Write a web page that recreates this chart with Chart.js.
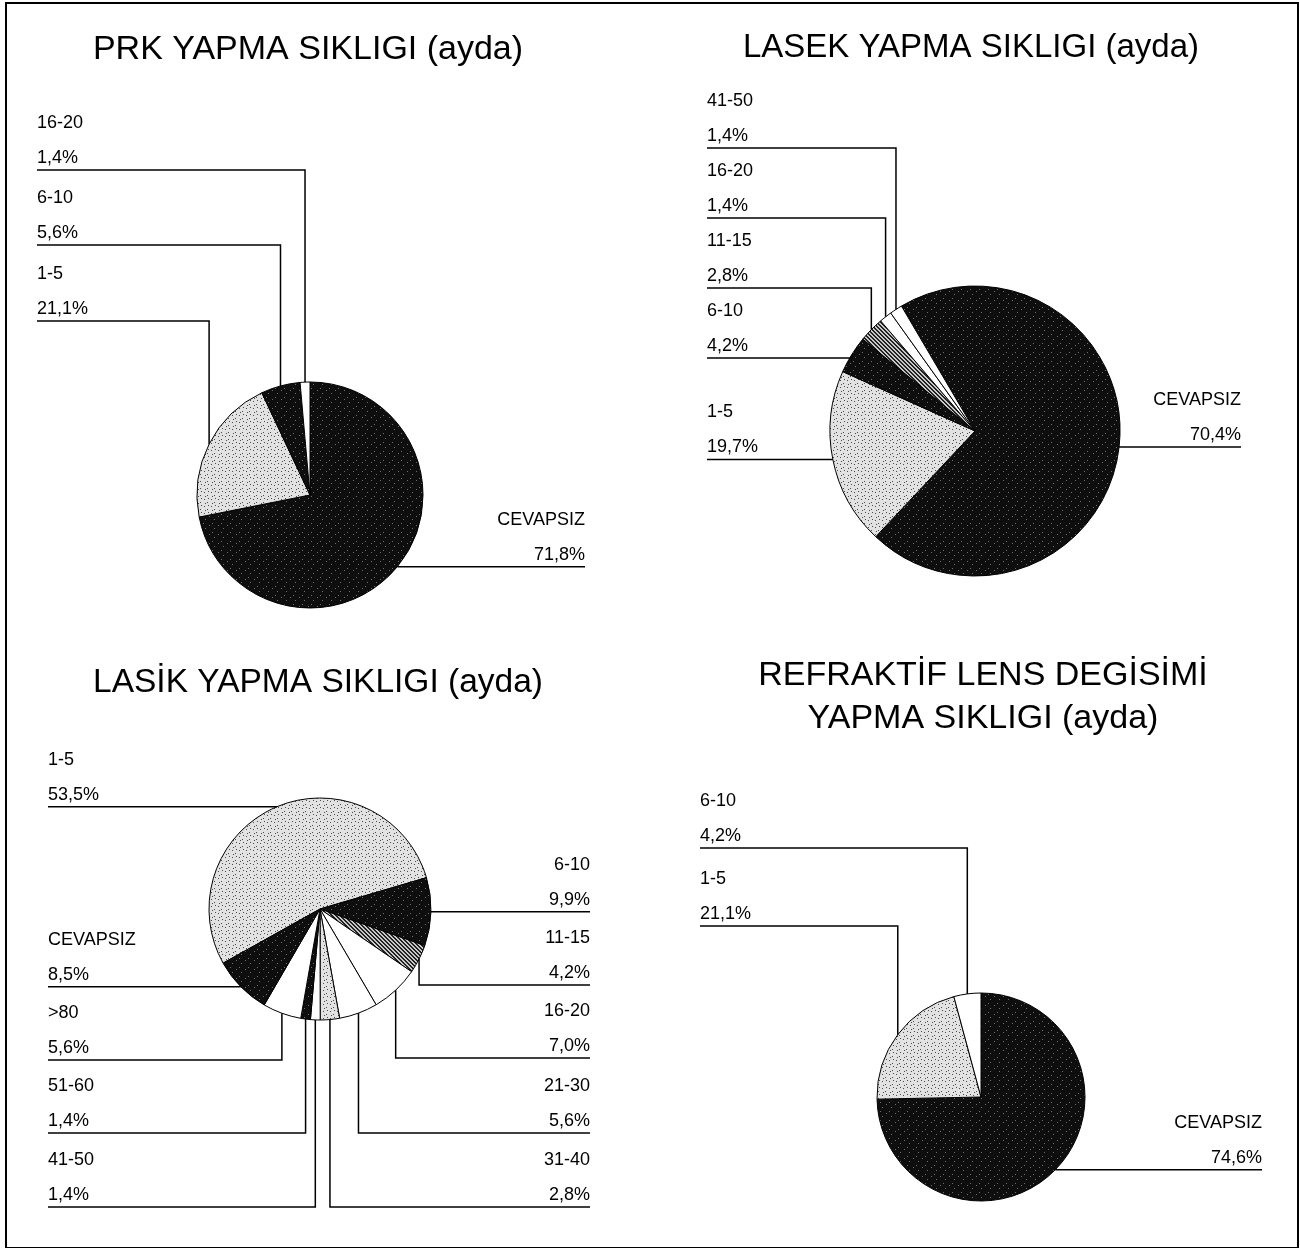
<!DOCTYPE html>
<html><head><meta charset="utf-8">
<script src="https://cdn.jsdelivr.net/npm/chart.js@4.4.1/dist/chart.umd.min.js"></script>
<style>
html,body{margin:0;padding:0;background:#fff;}
#page{position:relative;width:1300px;height:1248px;overflow:hidden;background:#fff;}
#frame{position:absolute;left:5px;top:2px;width:1294px;height:1246px;box-sizing:border-box;border:2px solid #000;border-bottom-width:1px;pointer-events:none;}
.q{position:absolute;width:650px;height:624px;}
canvas{display:block;}
</style></head><body>
<div id="page">
  <div class="q" style="left:0;top:0"><canvas id="cPRK" width="650" height="624"></canvas></div>
  <div class="q" style="left:650px;top:0"><canvas id="cLASEK" width="650" height="624"></canvas></div>
  <div class="q" style="left:0;top:624px"><canvas id="cLASIK" width="650" height="624"></canvas></div>
  <div class="q" style="left:650px;top:624px"><canvas id="cRLE" width="650" height="624"></canvas></div>
  <div id="frame"></div>
</div>
<script>
// ---------- DATA ----------
const prkCategories   = ['CEVAPSIZ', '1-5', '6-10', '16-20'];
const prkValues       = [71.8, 21.1, 5.6, 1.4];

const lasekCategories = ['CEVAPSIZ', '1-5', '6-10', '11-15', '16-20', '41-50'];
const lasekValues     = [70.4, 19.7, 4.2, 2.8, 1.4, 1.4];

const lasikCategories = ['1-5', '6-10', '11-15', '16-20', '21-30', '31-40', '41-50', '51-60', '>80', 'CEVAPSIZ'];
const lasikValues     = [53.5, 9.9, 4.2, 7.0, 5.6, 2.8, 1.4, 1.4, 5.6, 8.5];

const rleCategories   = ['CEVAPSIZ', '1-5', '6-10'];
const rleValues       = [74.6, 21.1, 4.2];

const prkTitle   = ['PRK YAPMA SIKLIGI (ayda)'];
const lasekTitle = ['LASEK YAPMA SIKLIGI (ayda)'];
const lasikTitle = ['LASİK YAPMA SIKLIGI (ayda)'];
const rleTitle   = ['REFRAKTİF LENS DEGİSİMİ', 'YAPMA SIKLIGI (ayda)'];

// ---------- STYLES ----------
const FONT = '"Liberation Sans", Arial, Helvetica, sans-serif';
function tile(size, base, dots, dotColor) {
  const c = document.createElement('canvas');
  c.width = size; c.height = size;
  const g = c.getContext('2d');
  g.fillStyle = base; g.fillRect(0, 0, size, size);
  g.fillStyle = dotColor;
  dots.forEach(d => g.fillRect(d[0], d[1], 1, 1));
  return g.createPattern(c, 'repeat');
}
const DARK  = tile(9, '#0e0e0e', [[2,3],[7,6],[5,1]], '#6e6e6e');
const LIGHT = tile(7, '#e2e2e2', [[1,2],[4,5],[5,1],[2,6]], '#4a4a4a');
const HATCH = tile(4, '#c8c8c8', [[0,0],[1,1],[2,2],[3,3],[1,0],[2,1],[3,2],[0,3]], '#222222');
const WHITE = '#ffffff';

const prkColors   = [DARK, LIGHT, DARK, WHITE];
const lasekColors = [DARK, LIGHT, DARK, HATCH, WHITE, WHITE];
const lasikColors = [LIGHT, DARK, HATCH, WHITE, WHITE, LIGHT, WHITE, DARK, WHITE, DARK];
const rleColors   = [DARK, LIGHT, WHITE];

function fmtPct(v) { return v.toFixed(1).replace('.', ',') + '%'; }

const calloutPlugin = {
  id: 'callouts',
  afterDraw(chart, args, opts) {
    const ctx = chart.ctx;
    const meta = chart.getDatasetMeta(0);
    const ds = chart.data.datasets[0];
    ctx.save();
    ctx.fillStyle = '#000';
    ctx.textAlign = 'center';
    ctx.textBaseline = 'middle';
    ctx.font = opts.titleSize + 'px ' + FONT;
    opts.title.forEach((line, i) => ctx.fillText(line, opts.titleX, opts.titleY + i * opts.titleLead));

    ctx.font = opts.labelSize + 'px ' + FONT;
    ctx.strokeStyle = '#000';
    ctx.lineWidth = 1.5;
    meta.data.forEach((arc, i) => {
      const place = opts.place[i];
      if (!place) return;
      const p = arc.getProps(['x', 'y', 'startAngle', 'endAngle', 'outerRadius'], true);
      const mid = (p.startAngle + p.endAngle) / 2;
      const px = p.x + Math.cos(mid) * p.outerRadius;
      const py = p.y + Math.sin(mid) * p.outerRadius;
      const uy = place.y == null ? py : place.y;
      const right = place.side === 'right';
      const xEnd = right ? opts.rightX : opts.leftX;
      ctx.beginPath();
      ctx.moveTo(xEnd, uy);
      ctx.lineTo(px, uy);
      ctx.lineTo(px, py);
      ctx.stroke();
      ctx.textAlign = right ? 'right' : 'left';
      ctx.fillText(chart.data.labels[i], xEnd, uy - opts.nameGap);
      ctx.fillText(fmtPct(ds.data[i]), xEnd, uy - opts.pctGap);
    });
    ctx.restore();
  }
};

const W = 650, H = 624;
function makePie(id, labels, values, colors, rotation, cx, cy, r, callouts) {
  const R = r + 6;
  return new Chart(document.getElementById(id), {
    type: 'pie',
    data: { labels: labels, datasets: [{ data: values, backgroundColor: colors, borderColor: '#000', borderWidth: 1 }] },
    options: {
      responsive: false,
      animation: false,
      rotation: rotation,
      radius: r,
      layout: { padding: { left: cx - R, right: W - cx - R, top: cy - R, bottom: H - cy - R } },
      plugins: {
        legend: { display: false },
        tooltip: { enabled: false },
        callouts: Object.assign({ titleSize: 34, titleLead: 43, labelSize: 18, nameGap: 47, pctGap: 12 }, callouts)
      }
    },
    plugins: [calloutPlugin]
  });
}

makePie('cPRK', prkCategories, prkValues, prkColors, 0, 310, 495, 113, {
  title: prkTitle, titleSize: 34, titleX: 308, titleY: 50, leftX: 37, rightX: 585,
  place: [{ side: 'right', y: null }, { side: 'left', y: 321 }, { side: 'left', y: 245 }, { side: 'left', y: 170 }]
});

makePie('cLASEK', lasekCategories, lasekValues, lasekColors, -30.5, 325, 431, 145, {
  title: lasekTitle, titleSize: 33, titleX: 321, titleY: 48, leftX: 57, rightX: 591,
  place: [{ side: 'right', y: null }, { side: 'left', y: null }, { side: 'left', y: 358 },
          { side: 'left', y: 288 }, { side: 'left', y: 218 }, { side: 'left', y: 148 }]
});

makePie('cLASIK', lasikCategories, lasikValues, lasikColors, -119.2, 320, 285, 111, {
  title: lasikTitle, titleSize: 33.5, titleX: 318, titleY: 59, leftX: 48, rightX: 590,
  place: [{ side: 'left', y: null }, { side: 'right', y: null }, { side: 'right', y: 361 },
          { side: 'right', y: 434 }, { side: 'right', y: 509 }, { side: 'right', y: 583 },
          { side: 'left', y: 583 }, { side: 'left', y: 509 }, { side: 'left', y: 436 }, { side: 'left', y: null }]
});

makePie('cRLE', rleCategories, rleValues, rleColors, 0, 331, 473, 104, {
  title: rleTitle, titleSize: 34, titleLead: 43, titleX: 333, titleY: 52, leftX: 50, rightX: 612,
  place: [{ side: 'right', y: null }, { side: 'left', y: 302 }, { side: 'left', y: 224 }]
});
</script>
</body></html>
